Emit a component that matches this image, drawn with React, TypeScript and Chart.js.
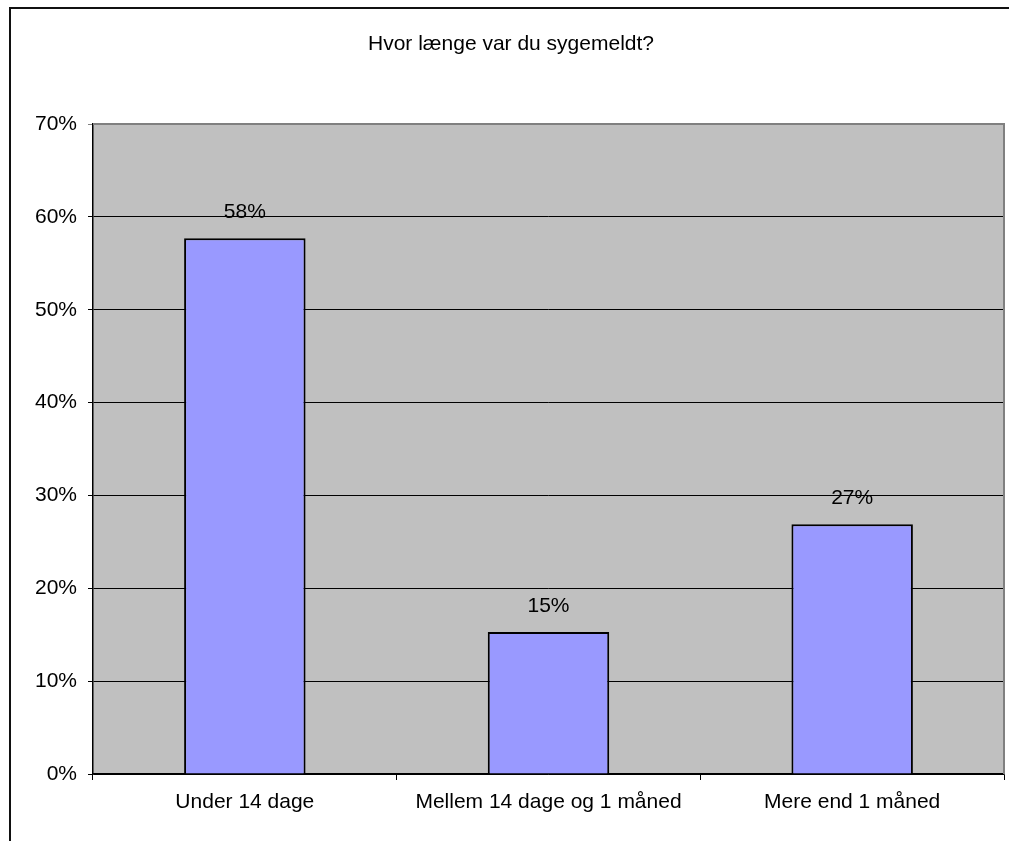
import React, { useEffect, useRef } from "react";
import { Chart, registerables } from "chart.js";

Chart.register(...registerables);

const title = "Hvor længe var du sygemeldt?";
const categories = ["Under 14 dage", "Mellem 14 dage og 1 måned", "Mere end 1 måned"];
const values = [0.577, 0.153, 0.269];
const yMin = 0;
const yMax = 0.7;
const yStep = 0.1;

const FONT = "'Liberation Sans', Arial, sans-serif";
const FS = 21;

export default function App() {
  const ref = useRef<HTMLCanvasElement | null>(null);

  useEffect(() => {
    if (!ref.current) return;
    const framePlugin = {
      id: "frame",
      beforeDraw(chart: any) {
        const { ctx, chartArea } = chart;
        ctx.save();
        ctx.fillStyle = "#ffffff";
        ctx.fillRect(0, 0, chart.width, chart.height);
        ctx.fillStyle = "#C0C0C0";
        ctx.fillRect(chartArea.left, chartArea.top, chartArea.right - chartArea.left, chartArea.bottom - chartArea.top);
        ctx.strokeStyle = "#111";
        ctx.lineWidth = 2;
        ctx.beginPath();
        ctx.moveTo(10, chart.height);
        ctx.lineTo(10, 8);
        ctx.lineTo(chart.width, 8);
        ctx.stroke();
        ctx.fillStyle = "#000";
        ctx.font = `${FS}px ${FONT}`;
        ctx.textAlign = "center";
        ctx.textBaseline = "middle";
        ctx.fillText(title, 511, 44);
        ctx.restore();
      },
      beforeDatasetsDraw(chart: any) {
        const { ctx, chartArea } = chart;
        ctx.save();
        ctx.strokeStyle = "#808080";
        ctx.lineWidth = 2;
        ctx.beginPath();
        ctx.moveTo(chartArea.left, chartArea.top);
        ctx.lineTo(chartArea.right, chartArea.top);
        ctx.lineTo(chartArea.right, chartArea.bottom);
        ctx.stroke();
        ctx.restore();
      },
      afterDatasetsDraw(chart: any) {
        const { ctx } = chart;
        const meta = chart.getDatasetMeta(0);
        ctx.save();
        ctx.fillStyle = "#000";
        ctx.font = `${FS}px ${FONT}`;
        ctx.textAlign = "center";
        ctx.textBaseline = "middle";
        meta.data.forEach((bar: any, i: number) => {
          ctx.fillText(Math.round(values[i] * 100) + "%", bar.x, bar.y - 26);
        });
        ctx.restore();
      },
    };

    const chart = new Chart(ref.current, {
      type: "bar",
      data: {
        labels: categories,
        datasets: [
          {
            data: values,
            backgroundColor: "#9999FF",
            borderColor: "#000000",
            borderWidth: 2,
            categoryPercentage: 1,
            barPercentage: 0.4,
          },
        ],
      },
      options: {
        responsive: false,
        animation: false,
        devicePixelRatio: 1,
        layout: { padding: { left: 10, top: 124, right: 5, bottom: 0 } },
        plugins: {
          legend: { display: false },
          title: { display: false },
          tooltip: { enabled: false },
        },
        scales: {
          x: {
            afterFit(scale: any) {
              scale.height = 67;
            },
            grid: {
              display: true,
              drawOnChartArea: false,
              drawTicks: true,
              tickLength: 6,
              color: "#000",
              offset: true,
            },
            border: { display: true, color: "#000", width: 1.5 },
            ticks: {
              color: "#000",
              font: { family: FONT, size: FS },
              padding: 10,
              maxRotation: 0,
              autoSkip: false,
            },
          },
          y: {
            min: yMin,
            max: yMax,
            afterFit(scale: any) {
              scale.width = 83;
            },
            grid: {
              color: (c: any) => (c.tick && Math.abs(c.tick.value - yMax) < 1e-9 ? "#808080" : "#000"),
              lineWidth: 1,
              tickLength: 5,
              drawTicks: true,
            },
            border: { display: true, color: "#000", width: 1.5 },
            ticks: {
              stepSize: yStep,
              color: "#000",
              font: { family: FONT, size: FS },
              padding: 11,
              callback: (v: any) => Math.round(Number(v) * 100) + "%",
            },
          },
        },
      },
      plugins: [framePlugin],
    });
    return () => chart.destroy();
  }, []);

  return (
    <div style={{ position: "absolute", left: 0, top: 0, width: 1009, height: 841, background: "#fff" }}>
      <canvas ref={ref} width={1009} height={841} style={{ display: "block" }} />
    </div>
  );
}
